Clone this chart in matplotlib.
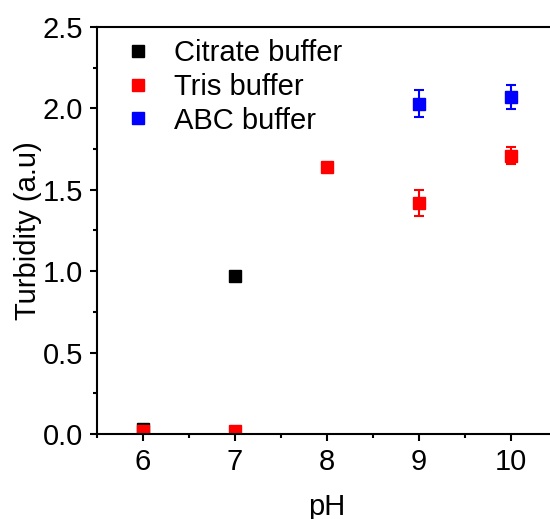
import numpy as np
import matplotlib.pyplot as plt
from matplotlib.ticker import MultipleLocator

plt.rcParams['font.family'] = ['Liberation Sans', 'DejaVu Sans']

# turbidity vs pH for each buffer
citrate_ph = [6, 7]
citrate_val = [0.03, 0.97]
citrate_err = [0.01, 0.01]

tris_ph = [6, 7, 8, 9, 10]
tris_val = [0.02, 0.02, 1.64, 1.42, 1.71]
tris_err = [0.0, 0.0, 0.01, 0.08, 0.05]

abc_ph = [9, 10]
abc_val = [2.03, 2.07]
abc_err = [0.08, 0.075]

fig = plt.figure(figsize=(5.5, 5.19), dpi=100)
ax = fig.add_axes([0.1764, 0.1638, 0.836, 0.7842])

series = [
    (citrate_ph, citrate_val, citrate_err, 'black', 'Citrate buffer'),
    (tris_ph, tris_val, tris_err, 'red', 'Tris buffer'),
    (abc_ph, abc_val, abc_err, 'blue', 'ABC buffer'),
]
for x, y, e, c, lab in series:
    ax.errorbar(x, y, yerr=e, fmt='s', color=c, ecolor=c, markersize=8.5,
                capsize=3.8, elinewidth=1.5, capthick=1.5, label=lab)

ax.set_xlim(5.5, 10.5)
ax.set_ylim(0, 2.5)
ax.xaxis.set_major_locator(MultipleLocator(1))
ax.xaxis.set_minor_locator(MultipleLocator(0.5))
ax.yaxis.set_major_locator(MultipleLocator(0.5))
ax.yaxis.set_minor_locator(MultipleLocator(0.25))
ax.yaxis.set_major_formatter(plt.FormatStrFormatter('%.1f'))

for s in ax.spines.values():
    s.set_linewidth(1.5)
ax.tick_params(which='major', direction='out', length=5, width=1.5,
               labelsize=21, pad=5)
ax.tick_params(which='minor', direction='out', length=3, width=1.5)

ax.set_xlabel('pH', fontsize=21, labelpad=12)
ax.set_ylabel('Turbidity (a.u)', fontsize=21, labelpad=0.5)

handles, labels = ax.get_legend_handles_labels()
handles = [h[0] for h in handles]
ax.legend(handles, labels, loc='upper left', bbox_to_anchor=(0.0, 1.035),
          frameon=False, fontsize=21, handlelength=1.0, handletextpad=0.75,
          labelspacing=0.2, markerscale=1.0)

fig.savefig('out.png', dpi=100)
